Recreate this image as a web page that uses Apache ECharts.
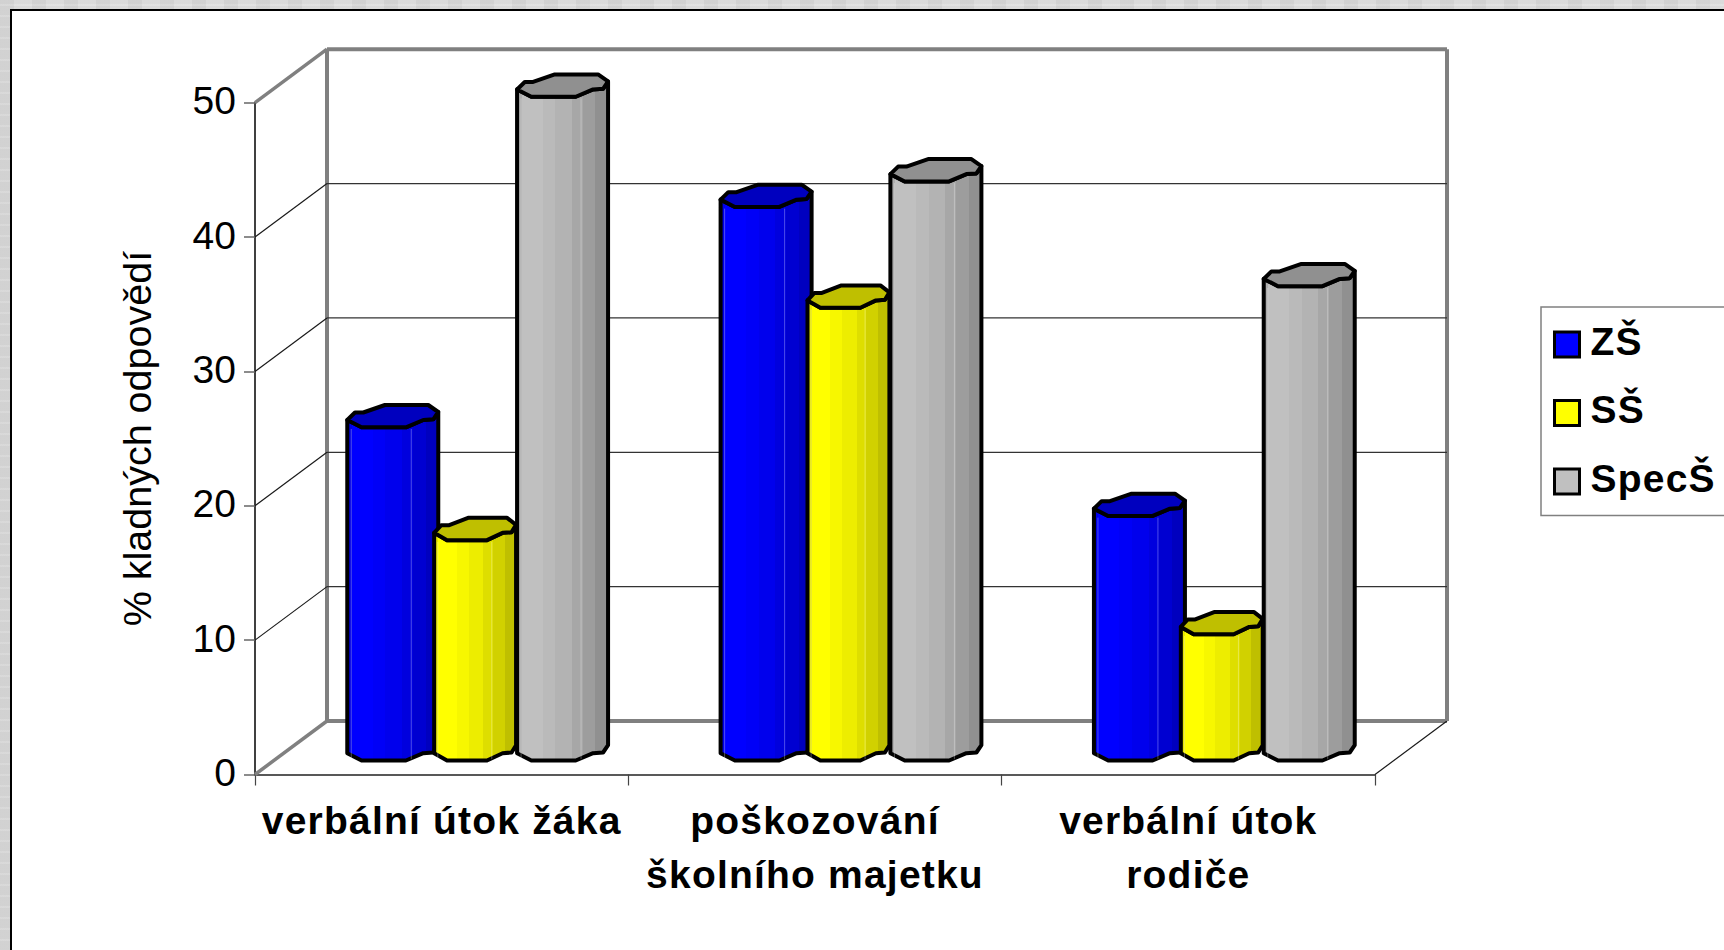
<!DOCTYPE html>
<html>
<head>
<meta charset="utf-8">
<title>chart</title>
<script src="https://cdn.jsdelivr.net/npm/echarts@6/dist/echarts.min.js"></script>
<style>
html,body{margin:0;padding:0;width:1724px;height:950px;overflow:hidden;
  background-color:#f3f3f3;
  background-image:repeating-linear-gradient(90deg,#ececec 0 14px,#f6f6f6 14px 32px),repeating-linear-gradient(0deg,#eee 0 9px,#f6f6f6 9px 11px);
  background-blend-mode:multiply;}
#panel{position:absolute;left:10px;top:9px;width:1714px;height:941px;background:#fff;border-left:2px solid #000;border-top:2px solid #000;box-sizing:border-box;}
#main{position:absolute;left:0;top:0;width:1724px;height:950px;}
svg text[style*="bold"]{letter-spacing:1.2px;}
</style>
</head>
<body>
<div id="panel"></div>
<div id="main"></div>
<script>
"use strict"
var categories = ['verbální útok žáka', 'poškozování\nškolního majetku', 'verbální útok\nrodiče'];
var seriesNames = ['ZŠ', 'SŠ', 'SpecŠ'];
var valuesZS = [24.8, 41.2, 18.2];
var valuesSS = [16.4, 33.7, 9.4];
var valuesSpec = [49.4, 43.1, 35.3];
var wallTicks = [0, 10, 20, 30, 40, 50];

var colors = [[0, 0, 255], [255, 255, 0], [192, 192, 192]];
var offsets = [-94.4, -7.5, 75.4];  // levy okraj sloupce od stredu kategorie
var widths = [1, 0.9, 1];         // zluty sloupec je uzsi
var depthX = 72, depthY = -53.5;  // hloubka 3D steny
var lift = 14;                    // predni hrana sloupce nad osou
var bands = [[0, .9], [.05, 1], [.28, .97], [.42, .93], [.6, .87], [.72, .82], [.86, .75], [1, .72]];
var fontName = '"Liberation Sans", Arial, sans-serif';

function rgb(c, f) {
    return 'rgb(' + Math.round(c[0] * f) + ',' + Math.round(c[1] * f) + ',' + Math.round(c[2] * f) + ')';
}

function bandGradient(c) {
    var stops = [];
    for (var i = 0; i < bands.length - 1; i++) {
        stops.push({offset: bands[i][0], color: rgb(c, bands[i][1])});
        stops.push({offset: bands[i + 1][0], color: rgb(c, bands[i][1])});
    }
    return new echarts.graphic.LinearGradient(0, 0, 1, 0, stops);
}

function column(seriesIndex) {
    return function (params, api) {
        var top = api.coord([api.value(0), api.value(1)]);
        var base = api.coord([api.value(0), 0]);
        var c = colors[seriesIndex];
        var w = widths[seriesIndex];
        var x = top[0] + offsets[seriesIndex];
        var y = top[1] - lift - 7.3;   // levy hrot podstavy
        var h = base[1] - top[1];
        function pt(px, py) { return [x + px * w, y + py]; }
        var body = [pt(0, 0), pt(0, h), pt(14.3, h + 7.3), pt(58.7, h + 7.3), pt(76, h), pt(86, h - 0.7), pt(91, h - 8),
            pt(91, -8), pt(86, -0.7), pt(76, 0), pt(58.7, 7.3), pt(14.3, 7.3)];
        var cap = [pt(0, 0), pt(14.3, 7.3), pt(58.7, 7.3), pt(76, 0), pt(86, -0.7), pt(91, -8), pt(81, -15),
            pt(37.7, -15), pt(16, -7.5), pt(7.7, -7.5)];
        var stroke = {stroke: '#000', lineWidth: 4, lineJoin: 'round'};
        var children = [{type: 'polygon', shape: {points: body},
            style: Object.assign({fill: bandGradient(c)}, stroke)}];
        [4, 64].forEach(function (lx) {
            if (h > 12) {
                children.push({type: 'line', shape: {x1: x + lx * w, y1: y + 9, x2: x + lx * w, y2: y + h + 6},
                    style: {stroke: 'rgba(255,255,255,0.3)', lineWidth: 1}});
            }
        });
        children.push({type: 'polygon', shape: {points: cap}, style: Object.assign({fill: rgb(c, .75)}, stroke)});
        return {type: 'group', children: children};
    };
}

function wall(params, api) {
    var v = api.value(0);
    var left = api.coord([0, v]);
    var size = api.size([1, 0]);
    var x0 = left[0] - size[0] / 2, y = left[1];
    var x1 = x0 + size[0] * categories.length;
    var edge = (v === wallTicks[0] || v === wallTicks[wallTicks.length - 1]);
    var gray = {stroke: '#808080', lineWidth: 4};
    var thin = {stroke: '#1a1a1a', lineWidth: 1.2};
    var children = [
        {type: 'line', shape: {x1: x0 + depthX, y1: y + depthY, x2: x1 + depthX, y2: y + depthY}, style: edge ? gray : {stroke: '#333', lineWidth: 1.2}},
        {type: 'line', shape: {x1: x0, y1: y, x2: x0 + depthX, y2: y + depthY}, style: edge ? {stroke: '#808080', lineWidth: 3.5} : thin}
    ];
    if (v === wallTicks[0]) {
        var yTop = api.coord([0, wallTicks[wallTicks.length - 1]])[1];
        children.push({type: 'line', shape: {x1: x1, y1: y, x2: x1 + depthX, y2: y + depthY}, style: thin});
        children.push({type: 'line', shape: {x1: x0 + depthX, y1: y + depthY, x2: x0 + depthX, y2: yTop + depthY}, style: gray});
        children.push({type: 'line', shape: {x1: x1 + depthX, y1: y + depthY, x2: x1 + depthX, y2: yTop + depthY}, style: gray});
    }
    return {type: 'group', children: children};
}

var myChart = echarts.init(document.getElementById('main'), null, {renderer: 'svg'});

var allValues = [valuesZS, valuesSS, valuesSpec];
var series = [{
    name: 'stena',
    type: 'custom',
    renderItem: wall,
    encode: {y: 0},
    data: wallTicks.map(function (v) { return [v]; }),
    silent: true,
    z: 1
}];
allValues.forEach(function (vals, s) {
    series.push({
        name: seriesNames[s],
        type: 'custom',
        renderItem: column(s),
        encode: {x: 0, y: 1},
        data: vals.map(function (v, i) { return [i, v]; }),
        itemStyle: {color: rgb(colors[s], 1)},
        z: 3 + s
    });
});

var option = {
    animation: false,
    backgroundColor: 'transparent',
    textStyle: {fontFamily: fontName},
    grid: {left: 255, top: 102.7, width: 1120, height: 671.8, containLabel: false},
    legend: {
        left: 1541, top: 307,
        orient: 'vertical',
        padding: [14.5, 40, 11, 12],
        itemWidth: 25, itemHeight: 25, itemGap: 22.5,
        icon: 'rect',
        borderColor: '#808080', borderWidth: 1.5,
        formatter: '{a|{name}}',
        textStyle: {
            rich: {a: {fontFamily: fontName, fontWeight: 'bold', fontSize: 39, lineHeight: 40, color: '#000', padding: [0, 0, 7, 6]}}
        },
        data: seriesNames.map(function (n, s) {
            return {name: n, itemStyle: {color: rgb(colors[s], 1), borderColor: '#000', borderWidth: 3}};
        })
    },
    xAxis: {
        type: 'category',
        data: categories,
        axisLine: {lineStyle: {color: '#222', width: 1.5}},
        axisTick: {show: true, length: 11, lineStyle: {color: '#444', width: 1.2}},
        axisLabel: {
            interval: 0, margin: 19, fontSize: 39, fontWeight: 'bold', color: '#000', lineHeight: 54,
            fontFamily: fontName
        }
    },
    yAxis: {
        type: 'value',
        min: 0, max: 50, interval: 10,
        name: '% kladných odpovědí',
        nameLocation: 'middle',
        nameGap: 98,
        nameTextStyle: {fontSize: 39.5, color: '#000', fontFamily: fontName},
        axisLine: {show: true, lineStyle: {color: '#404040', width: 2}},
        axisTick: {show: true, length: 11, lineStyle: {color: '#666', width: 1.5}},
        axisLabel: {
            margin: 19,
            formatter: '{a|{value}}',
            rich: {a: {fontSize: 39, color: '#000', fontFamily: fontName, padding: [0, 0, 4, 0]}}
        },
        splitLine: {show: false}
    },
    series: series
};

myChart.setOption(option);
</script>
</body>
</html>
